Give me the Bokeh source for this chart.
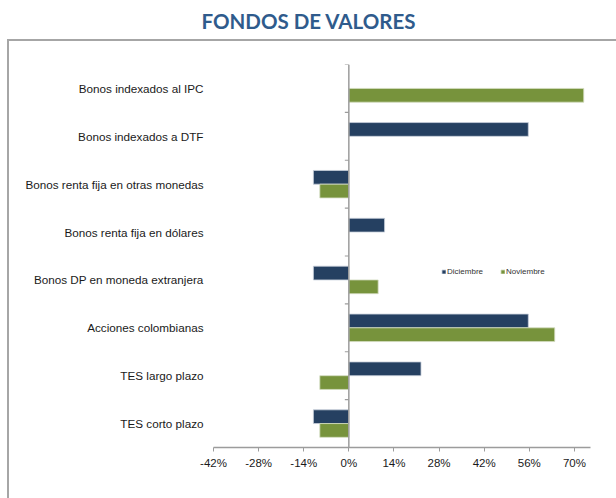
import numpy as np
from bokeh.plotting import figure
from bokeh.models import (ColumnDataSource, FactorRange, Range1d, FixedTicker, PrintfTickFormatter,
                          Span, Legend, LegendItem, InlineStyleSheet, Title)
from bokeh.transform import dodge
from bokeh.embed import file_html
from bokeh.resources import INLINE

categories = ["Bonos indexados al IPC", "Bonos indexados a DTF", "Bonos renta fija en otras monedas",
              "Bonos renta fija en dólares", "Bonos DP en moneda extranjera", "Acciones colombianas",
              "TES largo plazo", "TES corto plazo"]
diciembre = [np.nan, 55.7, -11.0, 11.1, -11.0, 55.7, 22.4, -11.0]
noviembre = [72.9, np.nan, -9.0, np.nan, 9.1, 63.9, -9.0, -9.0]
x_ticks = [-42, -28, -14, 0, 14, 28, 42, 56, 70]
title_text = "FONDOS DE VALORES"

DIC_COLOR = "#254061"
NOV_COLOR = "#77933C"
GRAY = "#9c9c9c"

factors = list(reversed(categories))
src = ColumnDataSource(dict(cat=categories, dic=diciembre, nov=noviembre))

p = figure(width=616, height=498, output_backend="svg", toolbar_location=None,
           y_range=FactorRange(factors=factors, range_padding=0, factor_padding=0),
           x_range=Range1d(-42, 75),
           min_border_left=213, min_border_right=26, min_border_top=64, min_border_bottom=51)
p.outline_line_color = None
p.xgrid.grid_line_color = None
p.ygrid.grid_line_color = None
p.background_fill_color = "white"
p.border_fill_color = "white"

p.title.text = title_text
p.title.align = "left"
p.title.offset = -12
p.title.text_font = "Lato"
p.title.text_font_style = "bold"
p.title.text_font_size = "20.5px"
p.title.text_color = "#2F5B8C"
p.title.standoff = 0

# spacer between the title and the plot area
p.add_layout(Title(text=" ", text_font_size="10px", standoff=19), "above")

bh = 0.287
r_dic = p.hbar(y=dodge("cat", bh / 2, range=p.y_range), left=0, right="dic", height=bh,
               source=src, fill_color=DIC_COLOR, line_color="#c9d1dc", line_width=0.8)
r_nov = p.hbar(y=dodge("cat", -bh / 2, range=p.y_range), left=0, right="nov", height=bh,
               source=src, fill_color=NOV_COLOR, line_color="#d3dcc0", line_width=0.8)

# vertical axis at 0 with category boundary ticks
p.add_layout(Span(location=0, dimension="height", line_color=GRAY, line_width=1.5))
p.ray(x=0, y=[[f, 0.5] for f in factors], length=4, angle=np.pi, length_units="screen",
      line_color=GRAY, line_width=1.2)

# x axis
xa = p.xaxis[0]
xa.ticker = FixedTicker(ticks=x_ticks)
xa.formatter = PrintfTickFormatter(format="%d%%")
xa.axis_line_color = GRAY
xa.axis_line_width = 1.5
xa.major_tick_line_color = GRAY
xa.major_tick_out = 4
xa.major_tick_in = 0
xa.minor_tick_line_color = None
xa.major_label_standoff = 5
xa.major_label_text_font = "Liberation Sans"
xa.major_label_text_font_size = "11.5px"
xa.major_label_text_color = "#1a1a1a"

ya = p.yaxis[0]
ya.axis_line_color = None
ya.major_tick_line_color = None
ya.minor_tick_line_color = None
ya.major_tick_out = 0
ya.major_label_standoff = 10
ya.major_label_text_font = "Liberation Sans"
ya.major_label_text_font_size = "11.7px"
ya.major_label_text_color = "#1a1a1a"

legend = Legend(items=[LegendItem(label="Diciembre", renderers=[r_dic]),
                       LegendItem(label="Noviembre", renderers=[r_nov])],
                orientation="horizontal", location=(228, 171),
                glyph_width=5, glyph_height=5, label_height=8, label_standoff=1, spacing=17,
                padding=0, margin=0, border_line_color=None, background_fill_alpha=0,
                label_text_font="Liberation Sans", label_text_font_size="8px",
                label_text_color="#333333")
p.add_layout(legend)

# decorative outer frame (top and left edges of the slide box)
p.stylesheets = [InlineStyleSheet(css="""
:host { position: relative; }
:host::after {
  content: "";
  position: absolute;
  left: 7px; top: 39px; width: 700px; height: 600px;
  border-top: 2px solid #a6a6a6;
  border-left: 2px solid #a6a6a6;
  pointer-events: none;
  z-index: 10;
}
""")]

open("out.html", "w").write(file_html(p, INLINE))
